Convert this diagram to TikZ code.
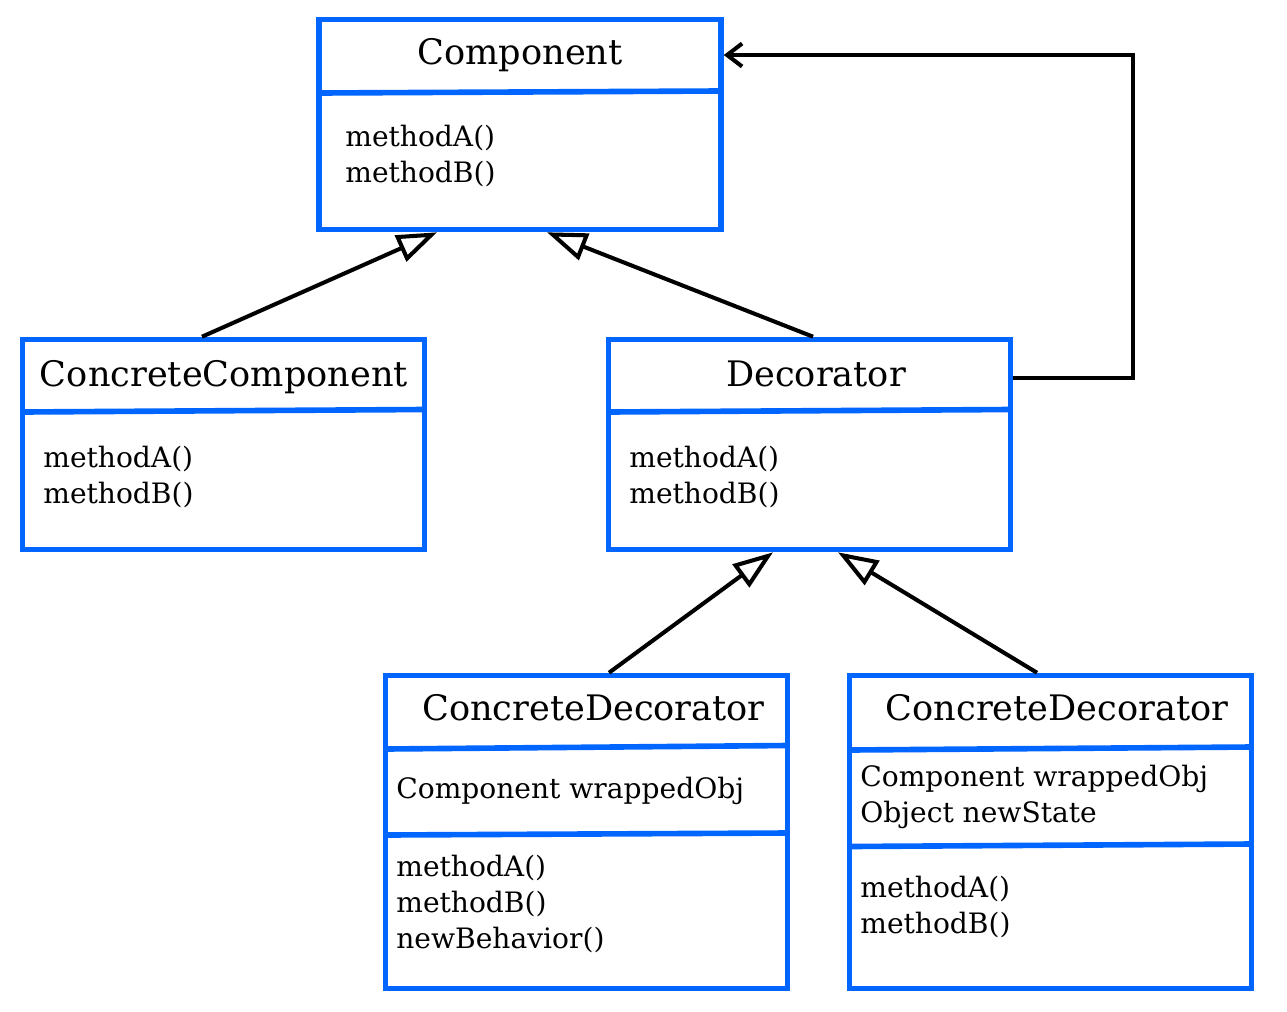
\documentclass[tikz,border=0pt]{standalone}
\usepackage{fontspec}
\setmainfont{DejaVu Serif}
\usetikzlibrary{arrows.meta}
\definecolor{umlblue}{RGB}{0,102,255}

\begin{document}
\begin{tikzpicture}[x=0.02cm, y=-0.02cm,
classbox/.style={draw=umlblue, line width=3.2pt, minimum width=8.04cm, inner sep=0pt},
divider/.style={draw=umlblue, line width=3.2pt},
classname/.style={font=\fontsize{20}{24}\selectfont, anchor=base, inner sep=0pt},
members/.style={font=\fontsize{16}{20.4}\selectfont, align=left, anchor=base west, inner sep=0pt},
inherit/.style={-{Triangle[open, length=0.8cm, width=0.56cm]}, line width=2.3pt},
assoc/.style={-{Straight Barb[length=0.3cm, width=0.46cm]}, line width=2.3pt}]
\useasboundingbox (0,0) rectangle (1287,1011);

% class boxes
\node[classbox, minimum height=4.2cm] (comp) at (520,124.5) {};
\node[classbox, minimum height=4.2cm] (cc) at (223.5,444.5) {};
\node[classbox, minimum height=4.2cm] (dec) at (809.5,444.5) {};
\node[classbox, minimum height=6.26cm] (cd1) at (586.5,832) {};
\node[classbox, minimum height=6.26cm] (cd2) at (1050.5,832) {};

% compartment lines
\draw[divider] (319.5,93) -- (720.5,91);
\draw[divider] (22.5,412) -- (424.5,409.5);
\draw[divider] (608.5,412) -- (1010.5,409.5);
\draw[divider] (385.5,749) -- (787.5,745.5);
\draw[divider] (385.5,835) -- (787.5,833);
\draw[divider] (849.5,750) -- (1251.5,747);
\draw[divider] (849.5,846.5) -- (1251.5,844);

% names
\node[classname] (comp-name) at (520,64) {Component};
\node[classname] (cc-name) at (224,386) {ConcreteComponent};
\node[classname] (dec-name) at (816,386) {Decorator};
\node[classname] (cd1-name) at (593.5,720) {ConcreteDecorator};
\node[classname] (cd2-name) at (1057,720) {ConcreteDecorator};

% attributes and operations (anchored on last line)
\node[members] (comp-ops) at (345,182) {methodA()\\methodB()};
\node[members] (cc-ops) at (43,503) {methodA()\\methodB()};
\node[members] (dec-ops) at (629,503) {methodA()\\methodB()};
\node[members] (cd1-attr) at (396,798) {Component wrappedObj};
\node[members] (cd1-ops) at (396,948) {methodA()\\methodB()\\newBehavior()};
\node[members] (cd2-attr) at (860,822) {Component wrappedObj\\Object newState};
\node[members] (cd2-ops) at (860,933) {methodA()\\methodB()};

% relations
\draw[inherit] ([xshift=-0.43cm]cc.north) -- ([xshift=-1.66cm]comp.south);
\draw[inherit] ([xshift=0.07cm]dec.north) -- ([xshift=0.54cm]comp.south);
\draw[inherit] ([xshift=0.45cm]cd1.north) -- ([xshift=-0.73cm]dec.south);
\draw[inherit] ([xshift=-0.27cm]cd2.north) -- ([xshift=0.57cm]dec.south);
\draw[assoc] ([yshift=1.33cm]dec.east) -- ++(2.4cm,0) |- ([yshift=1.39cm]comp.east);
\end{tikzpicture}
\end{document}
